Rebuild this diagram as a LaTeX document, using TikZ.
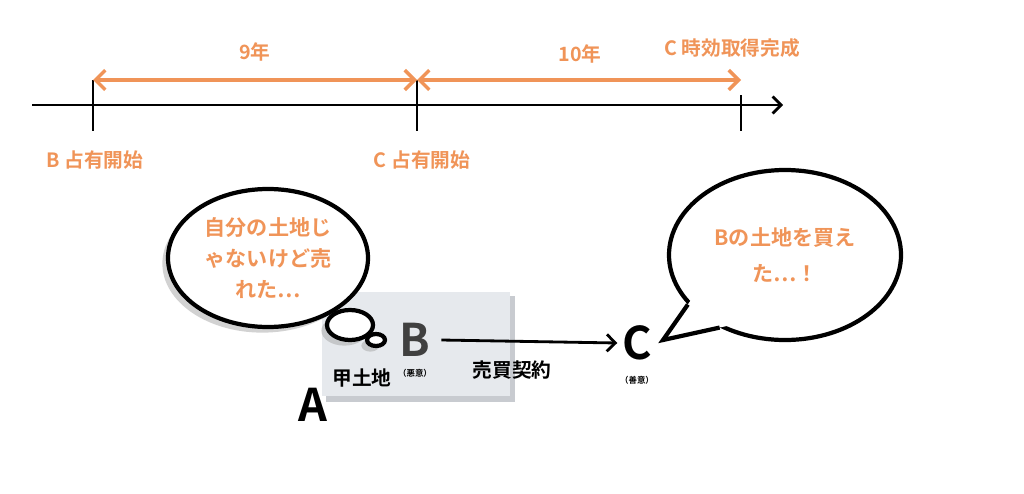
\documentclass[tikz,border=0pt]{standalone}
\usepackage{fontspec}
\setmainfont{Noto Sans CJK JP Bold}
\usetikzlibrary{arrows.meta,shadows,shapes.geometric,calc}
\definecolor{timeorange}{RGB}{240,148,88}
\definecolor{landgray}{RGB}{230,233,237}
\definecolor{edgegray}{RGB}{200,203,208}
\tikzset{
  lbl/.style={text=timeorange,font=\fontsize{14}{16}\selectfont},
  span/.style={timeorange,line width=2.4pt,{Straight Barb[length=7pt,width=14pt]}-{Straight Barb[length=7pt,width=14pt]}},
  tick/.style={line width=2pt},
  bubble/.style={draw,line width=3pt,fill=white,drop shadow={shadow xshift=-4pt,shadow yshift=-4pt,fill=gray!70}},
  person/.style={font=\fontsize{32}{34}\selectfont},
  note/.style={font=\fontsize{6}{7}\selectfont},
}
\begin{document}
\begin{tikzpicture}[x=0.025cm,y=-0.025cm]
\useasboundingbox[fill=white] (0,0) rectangle (1024,493);

% timeline
\coordinate (tstart) at (32,105);
\coordinate (tend) at (783,105);
\draw[line width=2pt,-{Straight Barb[length=6pt,width=12pt]}] (tstart) -- (tend);
\draw[tick] (93,80) -- (93,131);
\draw[tick] (417,80) -- (417,131);
\draw[tick] (741,95) -- (741,131);
\draw[span] (93,80) -- (417,80);
\draw[span] (417,80) -- (741,80);
\node[lbl] (nine) at (255,52) {9年};
\node[lbl] (ten) at (580,54) {10年};
\node[lbl] (done) at (732,48) {C 時効取得完成};
\node[lbl] (bstart) at (95,160) {B 占有開始};
\node[lbl] (cstart) at (422,160) {C 占有開始};

% land
\fill[edgegray] (326,296) rectangle (515,402);
\fill[landgray] (322,292) rectangle (510,396);

% thought bubble
\node[bubble,ellipse,minimum width=200*0.025cm,minimum height=138*0.025cm] (think) at (268,258) {};
\node[lbl,align=center,font=\fontsize{15}{22}\selectfont] at (think) {自分の土地じ\\ゃないけど売\\れた…};
\node[bubble,ellipse,minimum width=46*0.025cm,minimum height=30*0.025cm,inner sep=0pt] (puff) at (350,325) {};
\node[bubble,ellipse,minimum width=18*0.025cm,minimum height=12*0.025cm,inner sep=0pt] (dot) at (376,340) {};

% speech bubble
\node[draw,line width=3pt,fill=white,ellipse,minimum width=232*0.025cm,minimum height=170*0.025cm] (say) at (785,255) {};
\coordinate (tip) at (663,340);
\fill[white] (tip) -- ($(say.207)!-8pt!(tip)$) -- ($(say.228)!-8pt!(tip)$) -- cycle;
\draw[line width=3pt,line join=miter] (say.207) -- (tip) -- (say.228);
\node[lbl,align=center,font=\fontsize{15}{26}\selectfont] at (785,255) {Bの土地を買え\\た…！};

% parties
\node[person,text=black!75] (b) at (415,340) {B};
\node[note] (bnote) at (415,373) {（悪意）};
\node[font=\fontsize{14}{16}\selectfont] (land) at (362,378) {甲土地};
\node[person] (a) at (313,405) {A};
\node[person] (c) at (637,343) {C};
\node[note] (cnote) at (637,380) {（善意）};
\draw[line width=2pt,-{Straight Barb[length=6pt,width=12pt]}] (b.east) ++(6,0) coordinate (bout) (bout) -- (c.west);
\node[font=\fontsize{14}{16}\selectfont] (sale) at (512,370) {売買契約};
\end{tikzpicture}
\end{document}
